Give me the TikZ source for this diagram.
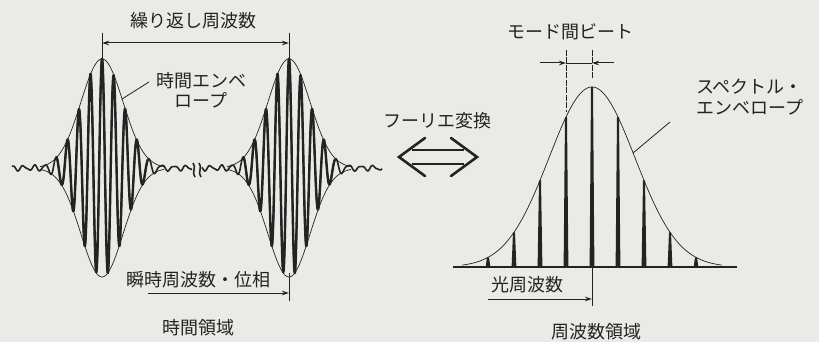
\documentclass[tikz,border=0pt]{standalone}
\usepackage{fontspec}
\newfontfamily\jpfont{Noto Sans CJK JP}
\usepackage{tikz}
\usetikzlibrary{arrows.meta,positioning,calc}
\definecolor{paper}{RGB}{234,234,230}
\definecolor{ink}{RGB}{35,35,35}
\tikzset{
  >={Stealth[length=7pt,width=4.5pt]},
  declare function={
    gs(\t)=exp(-0.5*(\t/21)^2);
    gw(\t)=exp(-0.5*(\t/43)^2);
    nz(\t)=2.2*sin(31*\t)+0.8*sin(53*\t+40);
  },
  lbl/.style={font=\jpfont\fontsize{18}{20.5}\selectfont,inner sep=0pt,text=ink},
  carrier/.style={ink,line width=1.6pt,line join=round},
  carriercore/.style={ink,line width=2.4pt,line join=round},
  envln/.style={ink,line width=0.7pt},
  guide/.style={ink,line width=0.6pt},
  dimarr/.style={->,ink,line width=1pt},
  leader/.style={ink,line width=0.8pt},
  spike/.style={fill=ink},
  axisln/.style={ink,line width=1.6pt},
  fshaft/.style={ink,double=paper,double distance=12pt,line width=2.2pt},
  fchev/.style={ink,line width=2.6pt,line join=miter,line cap=round},
}
\begin{document}
\begin{tikzpicture}[x=1pt,y=-1pt]
  \fill[paper] (0,0) rectangle (819,342);
  \useasboundingbox (0,0) rectangle (819,342);
  % time domain: two pulses
  \draw[carrier] plot[domain=12:192,samples=600]
    (\x,{168-109*gs(\x-102)*cos(31.03*(\x-102))-nz(\x-102)});
  \draw[carrier] plot[domain=202:382,samples=600]
    (\x,{168-109*gs(\x-289)*cos(31.03*(\x-289))-nz(\x-289)});
  \foreach \c in {102,289}{
    \draw[carriercore] plot[domain=\c-46:\c+46,samples=320]
      (\x,{168-109*gs(\x-\c)*cos(31.03*(\x-\c))-nz(\x-\c)});
    \draw[envln] plot[domain=\c-62:\c+62,samples=90] (\x,{168-109*gs(\x-\c)});
    \draw[envln] plot[domain=\c-62:\c+62,samples=90] (\x,{168+109*gs(\x-\c)});
  }
  \coordinate (brkA) at (194,170);
  \coordinate (brkB) at (200,170);
  \foreach \b in {brkA,brkB}
    \draw[carrier] ($(\b)+(-1,-7)$) .. controls ($(\b)+(3,-3)$) and ($(\b)+(-3,3)$) .. ($(\b)+(1,7)$);

  \coordinate (pkA) at (102,59);
  \coordinate (pkB) at (289,59);
  \coordinate (topA) at (102,33);
  \coordinate (topB) at (289,33);
  \coordinate (repA) at (102,43);
  \coordinate (repB) at (289,43);
  \draw[guide] (topA) -- (pkA);
  \draw[guide] (topB) -- (pkB);
  \draw[dimarr,<->] (repA) -- (repB);
  \node[lbl] (rep) at (193,21) {繰り返し周波数};

  \node[lbl,align=center] (tenv) at (201,90) {時間エンベ\\ロープ};
  \coordinate (tenvS) at (149,82);
  \coordinate (tenvP) at (122,99);
  \draw[leader] (tenvS) -- (tenvP);

  \node[lbl] (inst) at (198,280) {瞬時周波数・位相};
  \coordinate (instA) at (148,293);
  \coordinate (instB) at (289,293);
  \coordinate (botB1) at (289,273);
  \coordinate (botB2) at (289,301);
  \draw[guide] (botB1) -- (botB2);
  \draw[dimarr] (instA) -- (instB);
  \node[lbl] (tdom) at (198,328) {時間領域};

  % Fourier transform
  \node[lbl] (ft) at (437,121) {フーリエ変換};
  \coordinate (fL) at (399,157);
  \coordinate (fR) at (477,157);
  \draw[fshaft] ($(fL)+(13,0)$) -- ($(fR)+(-13,0)$);
  \draw[fchev] ($(fL)+(26,-19)$) -- (fL) -- ($(fL)+(26,19)$);
  \draw[fchev] ($(fR)+(-26,-19)$) -- (fR) -- ($(fR)+(-26,19)$);

  % frequency domain: mode comb
  \coordinate (axL) at (453,267);
  \coordinate (axR) at (737,267);
  \foreach \k in {-4,...,4}{
    \pgfmathsetmacro{\sx}{592+26*\k}
    \pgfmathsetmacro{\sh}{267-180*gw(26*\k)}
    \fill[spike] (\sx-2.4,267) -- (\sx-1,\sh) -- (\sx+1,\sh) -- (\sx+2.4,267) -- cycle;
  }
  \draw[envln] plot[domain=462:722,samples=120] (\x,{267-180*gw(\x-592)});
  \draw[axisln] (axL) -- (axR);

  \node[lbl] (beat) at (570,32) {モード間ビート};
  \coordinate (bA1) at (566,50);
  \coordinate (bA2) at (566,112);
  \coordinate (bB1) at (592,50);
  \coordinate (bB2) at (592,80);
  \coordinate (bL) at (540,63);
  \coordinate (bR) at (614,63);
  \draw[guide,dash pattern=on 6pt off 1.5pt] (bA1) -- (bA2);
  \draw[guide,dash pattern=on 6pt off 1.5pt] (bB1) -- (bB2);
  \draw[dimarr] (bL) -- (bA1 |- bL);
  \draw[dimarr] (bR) -- (bB1 |- bR);
  \draw[guide] (bA1 |- bL) -- (bB1 |- bR);

  \node[lbl,align=left,anchor=west] (senv) at (696,97) {スペクトル・\\エンベロープ};
  \coordinate (senvS) at (670,122);
  \coordinate (senvP) at (633,153);
  \draw[leader] (senvS) -- (senvP);

  \node[lbl] (opt) at (527,285) {光周波数};
  \coordinate (optA) at (488,299);
  \coordinate (optB) at (592,299);
  \coordinate (ctr1) at (592,267);
  \coordinate (ctr2) at (592,306);
  \draw[guide] (ctr1) -- (ctr2);
  \draw[dimarr] (optA) -- (optB);
  \node[lbl] (fdom) at (596,332) {周波数領域};
\end{tikzpicture}
\end{document}
